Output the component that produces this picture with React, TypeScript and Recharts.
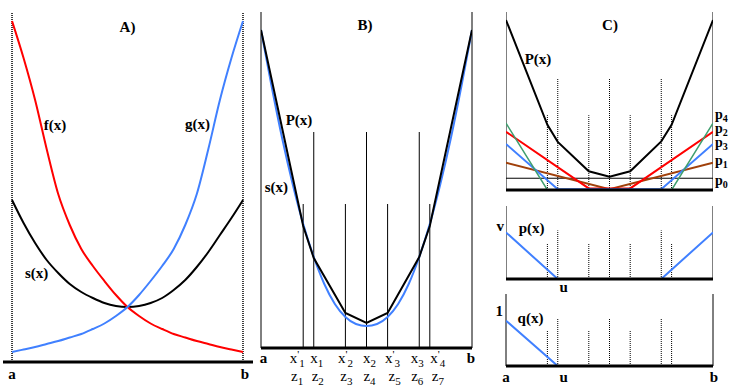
import React from 'react';
import { LineChart, Line, XAxis, YAxis, ReferenceLine } from 'recharts';

// Panel A: f, g and the smooth s between them (x runs a..b as 0..1)
const aX = [0, 0.05, 0.1, 0.15, 0.2, 0.25, 0.3, 0.35, 0.4, 0.45, 0.5, 0.55, 0.6, 0.65, 0.7, 0.75, 0.8, 0.85, 0.9, 0.95, 1];
const aF = [341, 304, 262, 213, 168, 137, 113, 96, 81, 67, 55, 46, 38.5, 33, 28, 24.5, 21, 18, 15, 12.5, 10];
const aG = [10, 12.5, 15, 18, 21, 24.5, 28, 33, 38.5, 46, 55, 67, 81, 96, 113, 137, 168, 213, 262, 304, 341];
const aS = [162, 139, 119, 102, 89, 78, 70, 64, 59, 56, 55, 56, 59, 64, 72, 82, 95, 110, 127, 144, 162];

// Panel B: nodes, the piecewise linear P(x) and the smooth s(x)
const nodes = [0.2, 0.25, 0.4, 0.5, 0.6, 0.75, 0.8];
const nodeTall = [false, true, false, true, false, true, false];
const pX = [0, 0.2, 0.25, 0.4, 0.5, 0.6, 0.75, 0.8, 1];
const pY = [318, 122, 90, 35, 25, 35, 91, 122, 318];
const bSX = [0, 0.05, 0.1, 0.15, 0.2, 0.25, 0.3, 0.35, 0.4, 0.45, 0.5, 0.55, 0.6, 0.65, 0.7, 0.75, 0.8, 0.85, 0.9, 0.95, 1];
const bSY = [318, 262, 210, 164, 124, 91, 64, 44, 31, 24, 22, 24, 31, 44, 64, 91, 124, 164, 210, 262, 318];
const bTopLabels = ['a', "x'1", 'x1', "x'2", 'x2', "x'3", 'x3', "x'4", 'b'];
const bBottomLabels = ['', 'z1', 'z2', 'z3', 'z4', 'z5', 'z6', 'z7', ''];

// Panel C (top): the basis pieces p0..p4 under P(x)
const p0Level = 22;
const p1X = [0, 0.5, 1];
const p1Y = [51, 1.5, 51];
const p2X = [0, 0.4, 0.6, 1];
const p2Y = [109, 3, 3, 109];
const p3X = [0, 0.25, 0.75, 1];
const p3Y = [86, 1.5, 1.5, 86];
const p4X = [0, 0.2, 0.8, 1];
const p4Y = [125, 0, 0, 125];

// Panel C (middle, bottom): p(x) and q(x)
const vX = [0, 0.25, 0.75, 1];
const vY = [46.6, 0, 0, 46.6];
const qX = [0, 0.25, 1];
const qY = [45.3, 0, 0];

const serif = '"Liberation Serif", "DejaVu Serif", serif';
const BLUE = '#4080ff';
const RED = '#ff0000';
const GREEN = '#3f9f6f';
const BROWN = '#a0400a';

const pts = (xs: number[], ys: number[]) => xs.map((x, i) => ({ x, y: ys[i] }));

const noMargin = { top: 0, right: 0, bottom: 0, left: 0 };
const sideMargin = { top: 0, right: 8, bottom: 0, left: 8 };

// small hand nudges of the axis labels, as in the original drawing
const bTopDx = [2.5, -6, 3, 0, 3, 5, -2, 8, -1];
const bBottomDx = [0, -6, 4, 1, 3, 7, -2, 8, 0];

const SubText = ({ x, y, label, bold }: { x: number; y: number; label: string; bold?: boolean }) => {
  const base = label[0];
  const prime = label.includes("'");
  const sub = label.length > 1 ? label[label.length - 1] : '';
  return (
    <text x={x} y={y} textAnchor="middle" fontFamily={serif} fontSize={15} fontWeight={bold ? 'bold' : 'normal'} fill="#000">
      {base}
      {prime && <tspan dy={-5} fontSize={11}>'</tspan>}
      {sub && <tspan dy={prime ? 9 : 4} fontSize={11}>{sub}</tspan>}
    </text>
  );
};

const simpleTick = (labels: Record<string, string>, dy: number, dxs: Record<string, number> = {}) => (props: any) => {
  const v = String(props.payload.value);
  return (
    <text x={props.x + (dxs[v] || 0)} y={props.y + dy} textAnchor="middle" fontFamily={serif} fontSize={15} fontWeight="bold" fill="#000">
      {labels[v]}
    </text>
  );
};

const bTick = (props: any) => {
  const i = props.index ?? [0, ...nodes, 1].indexOf(props.payload.value);
  const top = bTopLabels[i];
  const bottom = bBottomLabels[i];
  const endLabel = top === 'a' || top === 'b';
  return (
    <g>
      <SubText x={props.x + bTopDx[i]} y={props.y + 15} label={top} bold={endLabel} />
      {bottom && <SubText x={props.x + bBottomDx[i]} y={props.y + 33} label={bottom} />}
    </g>
  );
};

const Label = ({ x, y, text, anchor = 'middle' }: { x: number; y: number; text: string; anchor?: 'middle' | 'start' | 'end' }) => (
  <text x={x} y={y} textAnchor={anchor} fontFamily={serif} fontSize={15} fontWeight="bold" fill="#000">
    {text}
  </text>
);

const PLabel = ({ x, y, sub }: { x: number; y: number; sub: string }) => (
  <text x={x} y={y} fontFamily={serif} fontSize={14} fontWeight="bold" fill="#000">
    p<tspan dy={3} fontSize={10}>{sub}</tspan>
  </text>
);

const vSeg = (x: number, h: number, key: string, dotted = false, width = 1) => (
  <ReferenceLine
    key={key}
    segment={[{ x, y: 0 }, { x, y: h }]}
    stroke="#000"
    strokeWidth={width}
    strokeDasharray={dotted ? '1 1' : undefined}
    ifOverflow="visible"
  />
);

const App: React.FC = () => {
  return (
    <div style={{ position: 'absolute', left: 0, top: 0, width: 735, height: 389, overflow: 'hidden', background: '#fff' }}>
      {/* A */}
      <div style={{ position: 'absolute', left: 3, top: 12 }}>
        <LineChart width={250} height={376} margin={noMargin}>
          <XAxis
            type="number"
            dataKey="x"
            domain={[-0.039, 1.0433]}
            allowDataOverflow
            ticks={[0, 1]}
            interval={0}
            tickSize={0}
            tickMargin={0}
            tickLine={false}
            axisLine={{ stroke: '#000', strokeWidth: 3 }}
            tick={simpleTick({ '0': 'a', '1': 'b' }, 17, { '1': 2 })}
            height={26}
          />
          <YAxis hide type="number" domain={[0, 350]} allowDataOverflow />
          {vSeg(0, 350, 'a-l', true, 1.5)}
          {vSeg(1, 350, 'a-r', true, 1.5)}
          <Line data={pts(aX, aS)} dataKey="y" type="monotone" stroke="#000" strokeWidth={2} dot={false} isAnimationActive={false} />
          <Line data={pts(aX, aF)} dataKey="y" type="monotone" stroke={RED} strokeWidth={2} dot={false} isAnimationActive={false} />
          <Line data={pts(aX, aG)} dataKey="y" type="monotone" stroke={BLUE} strokeWidth={2} dot={false} isAnimationActive={false} />
        </LineChart>
      </div>

      {/* B */}
      <div style={{ position: 'absolute', left: 253, top: 12 }}>
        <LineChart width={227} height={376} margin={sideMargin}>
          <XAxis
            type="number"
            dataKey="x"
            domain={[0, 1]}
            allowDataOverflow
            ticks={[0, ...nodes, 1]}
            interval={0}
            tickSize={0}
            tickMargin={0}
            tickLine={false}
            axisLine={{ stroke: '#000', strokeWidth: 3 }}
            tick={bTick}
            height={40}
          />
          <YAxis hide type="number" domain={[0, 336]} allowDataOverflow />
          {vSeg(0, 336, 'b-l')}
          {vSeg(1, 336, 'b-r')}
          {nodes.map((n, i) => vSeg(n, nodeTall[i] ? 216 : 144, 'b-n' + i))}
          <Line data={pts(bSX, bSY)} dataKey="y" type="monotone" stroke={BLUE} strokeWidth={2} dot={false} isAnimationActive={false} />
          <Line data={pts(pX, pY)} dataKey="y" type="linear" stroke="#000" strokeWidth={2} dot={false} isAnimationActive={false} />
        </LineChart>
      </div>

      {/* C top */}
      <div style={{ position: 'absolute', left: 506, top: 12 }}>
        <LineChart width={207} height={184} margin={noMargin}>
          <XAxis
            type="number"
            dataKey="x"
            domain={[0, 1]}
            allowDataOverflow
            tick={false}
            tickLine={false}
            axisLine={{ stroke: '#000', strokeWidth: 3 }}
            height={6}
          />
          <YAxis hide type="number" domain={[0, 333]} allowDataOverflow />
          {vSeg(0, 333, 'c-l')}
          {vSeg(1, 333, 'c-r')}
          {nodes.map((n, i) => vSeg(n, nodeTall[i] ? 209 : 140, 'c-n' + i, true))}
          <ReferenceLine y={p0Level} stroke="#000" strokeWidth={1} />
          <Line data={pts(p1X, p1Y)} dataKey="y" type="linear" stroke={BROWN} strokeWidth={2} dot={false} isAnimationActive={false} />
          <Line data={pts(p2X, p2Y)} dataKey="y" type="linear" stroke={RED} strokeWidth={2} dot={false} isAnimationActive={false} />
          <Line data={pts(p3X, p3Y)} dataKey="y" type="linear" stroke={BLUE} strokeWidth={2} dot={false} isAnimationActive={false} />
          <Line data={pts(p4X, p4Y)} dataKey="y" type="linear" stroke={GREEN} strokeWidth={1.5} dot={false} isAnimationActive={false} />
          <Line data={pts(pX, pY)} dataKey="y" type="linear" stroke="#000" strokeWidth={2} dot={false} isAnimationActive={false} />
        </LineChart>
      </div>

      {/* C middle */}
      <div style={{ position: 'absolute', left: 506, top: 206 }}>
        <LineChart width={207} height={89} margin={noMargin}>
          <XAxis
            type="number"
            dataKey="x"
            domain={[0, 1]}
            allowDataOverflow
            ticks={[0.25]}
            interval={0}
            tickSize={0}
            tickMargin={0}
            tickLine={false}
            axisLine={{ stroke: '#000', strokeWidth: 3 }}
            tick={simpleTick({ '0.25': 'u' }, 13, { '0.25': 6 })}
            height={16}
          />
          <YAxis hide type="number" domain={[0, 73]} allowDataOverflow />
          {vSeg(0, 73, 'm-l')}
          {vSeg(1, 73, 'm-r')}
          {nodes.map((n, i) => vSeg(n, nodeTall[i] ? 48.6 : 36, 'm-n' + i, true))}
          <Line data={pts(vX, vY)} dataKey="y" type="linear" stroke={BLUE} strokeWidth={2} dot={false} isAnimationActive={false} />
        </LineChart>
      </div>

      {/* C bottom */}
      <div style={{ position: 'absolute', left: 498, top: 294 }}>
        <LineChart width={223} height={94} margin={sideMargin}>
          <XAxis
            type="number"
            dataKey="x"
            domain={[0, 1]}
            allowDataOverflow
            ticks={[0, 0.25, 1]}
            interval={0}
            tickSize={0}
            tickMargin={0}
            tickLine={false}
            axisLine={{ stroke: '#000', strokeWidth: 3 }}
            tick={simpleTick({ '0': 'a', '0.25': 'u', '1': 'b' }, 15.5, { '0.25': 6, '1': 1 })}
            height={22}
          />
          <YAxis hide type="number" domain={[0, 72]} allowDataOverflow />
          {vSeg(0, 72, 'q-l')}
          {vSeg(1, 72, 'q-r')}
          {nodes.map((n, i) => vSeg(n, nodeTall[i] ? 47.7 : 36, 'q-n' + i, true))}
          <Line data={pts(qX, qY)} dataKey="y" type="linear" stroke={BLUE} strokeWidth={2} dot={false} isAnimationActive={false} />
        </LineChart>
      </div>

      {/* free text labels */}
      <svg width={735} height={389} style={{ position: 'absolute', left: 0, top: 0, pointerEvents: 'none' }}>
        <Label x={127.5} y={32} text="A)" />
        <Label x={55} y={130} text="f(x)" />
        <Label x={197.5} y={129} text="g(x)" />
        <Label x={36.7} y={278} text="s(x)" />
        <Label x={365} y={30} text="B)" />
        <Label x={299} y={125} text="P(x)" />
        <Label x={276.3} y={191.7} text="s(x)" />
        <Label x={610} y={30} text="C)" />
        <Label x={538} y={64} text="P(x)" />
        <PLabel x={715} y={119} sub="4" />
        <PLabel x={715} y={133} sub="2" />
        <PLabel x={715} y={147} sub="3" />
        <PLabel x={715} y={165} sub="1" />
        <PLabel x={715} y={185} sub="0" />
        <Label x={504} y={231} text="v" anchor="end" />
        <Label x={531.7} y={233} text="p(x)" />
        <Label x={503} y={316} text="1" anchor="end" />
        <Label x={530.5} y={322.7} text="q(x)" />
      </svg>
    </div>
  );
};

export default App;
